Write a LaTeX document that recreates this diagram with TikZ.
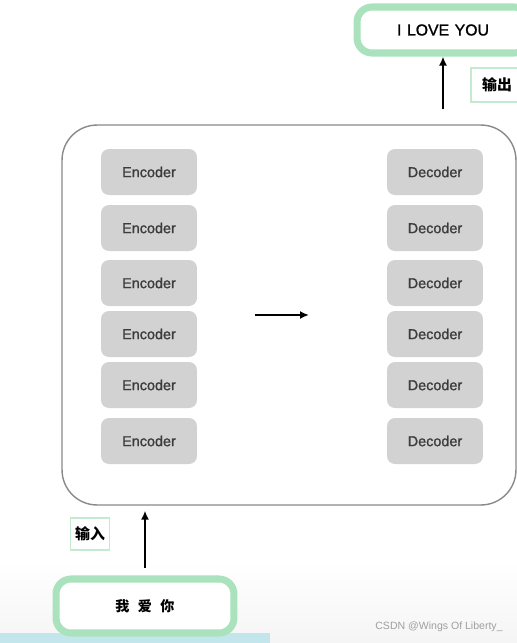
\documentclass[tikz,border=0pt]{standalone}
\usepackage{fontspec}
\setmainfont{Liberation Sans}
\newfontfamily\medfont[BoldFont={Liberation Sans}, BoldFeatures={FakeBold=1.2}]{Liberation Sans}
\newfontfamily\cjk{Noto Sans CJK SC}
\usetikzlibrary{arrows.meta,positioning}
\definecolor{mintgreen}{HTML}{A9E2BC}
\definecolor{palegreen}{HTML}{C4EBD0}
\definecolor{blockgray}{HTML}{D2D2D2}
\definecolor{textgray}{HTML}{3C3C3C}
\definecolor{framegray}{HTML}{8A8A8A}
\definecolor{stripblue}{HTML}{C3E6EC}

\begin{document}
\begin{tikzpicture}[
    x=0.02cm, y=-0.02cm,
    block/.style={rectangle, rounded corners=0.16cm, fill=blockgray, text=textgray, minimum width=1.92cm, minimum height=0.92cm, font=\medfont\bfseries\fontsize{8.2}{10}\selectfont},
    io/.style={rectangle, rounded corners=0.3cm, draw=mintgreen, line width=4pt, fill=white, font=\medfont\bfseries\fontsize{9}{11}\selectfont},
    tag/.style={rectangle, draw=palegreen, line width=0.9pt, fill=white, inner sep=0pt, font=\cjk\fontsize{8.5}{10}\selectfont\bfseries},
    arrow/.style={-{Latex[length=1.8mm,width=1.6mm]}, line width=1pt}
  ]
    \clip (0,0) rectangle (517,643);
    \fill[white] (0,0) rectangle (517,643);
    \shade[top color=white, bottom color=gray!8] (0,560) rectangle (517,643);
    \fill[stripblue] (0,633) rectangle (270,643);

    % model frame
    \node[draw=framegray, line width=0.8pt, rounded corners=0.7cm, minimum width=9.08cm, minimum height=7.6cm] (frame) at (289,315) {};

    % encoder stack
    \node[block] (enc1) at (149,172) {Encoder};
    \node[block] (enc2) at (149,228) {Encoder};
    \node[block] (enc3) at (149,283) {Encoder};
    \node[block] (enc4) at (149,334) {Encoder};
    \node[block] (enc5) at (149,385) {Encoder};
    \node[block] (enc6) at (149,441) {Encoder};

    % decoder stack
    \node[block] (dec1) at (435,172) {Decoder};
    \node[block] (dec2) at (435,228) {Decoder};
    \node[block] (dec3) at (435,283) {Decoder};
    \node[block] (dec4) at (435,334) {Decoder};
    \node[block] (dec5) at (435,385) {Decoder};
    \node[block] (dec6) at (435,441) {Decoder};

    \coordinate (mida) at (255,315);
    \coordinate (midb) at (309,315);
    \draw[arrow] (mida) -- (midb);

    % input / output
    \node[io, minimum width=3.44cm, minimum height=0.92cm] (out) at (443,30) {I\hspace{0.35em}LOVE\hspace{0.35em}YOU};
    \node[io, minimum width=3.56cm, minimum height=1.08cm, font=\cjk\fontsize{8}{10}\selectfont\bfseries] (in) at (145,606) {我\hspace{0.6em}爱\hspace{0.6em}你};
    \node[tag, minimum width=1.04cm, minimum height=0.68cm] (outtag) at (497,85) {输出};
    \node[tag, minimum width=0.78cm, minimum height=0.64cm] (intag) at (90,534) {输入};

    \draw[arrow, shorten <=0.3cm] (out.south |- frame.north) -- (out.south);
    \draw[arrow, shorten <=0.16cm, shorten >=0.1cm] (in.north) -- (in.north |- frame.south);

    \node[text=gray!75, font=\fontsize{6}{7}\selectfont] (mark) at (439,627) {CSDN @Wings Of Liberty\_};
  \end{tikzpicture}
\end{document}
